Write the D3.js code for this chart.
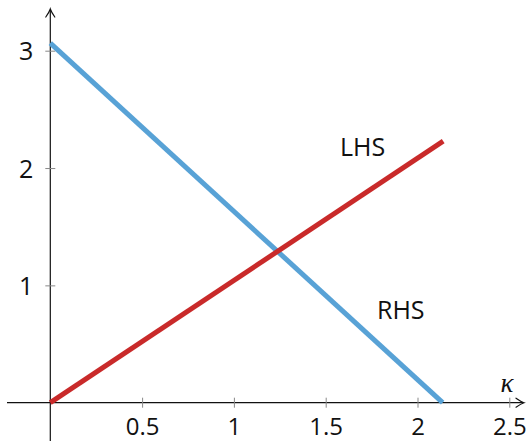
<!DOCTYPE html>
<html><head><meta charset="utf-8">
<script src="https://cdn.jsdelivr.net/npm/d3@7"></script>
<style>html,body{margin:0;padding:0;background:#fff;}svg{display:block;}</style>
</head><body>
<svg id="c" width="528" height="441"></svg>
<script>
// Data
const kappa = [0, 2.14];
const lhs = [0, 2.23];
const rhsKappa = [0, 2.137];
const rhs = [3.065, 0];
const xTicks = [0.5, 1, 1.5, 2, 2.5];
const yTicks = [1, 2, 3];
const xTickLabels = ["0.5", "1", "1.5", "2", "2.5"];
const yTickLabels = ["1", "2", "3"];

const svg = d3.select("#c");
const x = d3.scaleLinear().domain([0, 2.5]).range([50.3, 509.3]);
const y = d3.scaleLinear().domain([0, 3]).range([402.7, 50.7]);
const font = "'Open Sans', sans-serif";

// Axis lines
const ax = svg.append("g").attr("stroke", "#111").attr("stroke-width", 1.2).attr("fill", "none");
ax.append("line").attr("x1", 7).attr("x2", 523).attr("y1", y(0)).attr("y2", y(0));
ax.append("line").attr("x1", x(0)).attr("x2", x(0)).attr("y1", 441).attr("y2", 10);
// arrowheads (LaTeX-style)
const ax0 = y(0), xr = 524;
ax.append("path").attr("d", `M${xr-8},${ax0-4.5} Q${xr-3},${ax0-1} ${xr},${ax0} Q${xr-3},${ax0+1} ${xr-8},${ax0+4.5}`).attr("stroke-linecap","round");
const yt = 9, xx = x(0);
ax.append("path").attr("d", `M${xx-4.5},${yt+8} Q${xx-1},${yt+3} ${xx},${yt} Q${xx+1},${yt+3} ${xx+4.5},${yt+8}`).attr("stroke-linecap","round");

// X axis ticks
const xAxis = d3.axisBottom(x).tickValues(xTicks).tickSize(10).tickFormat((d, i) => xTickLabels[i]);
const gx = svg.append("g").attr("transform", `translate(0,${y(0) - 5})`).call(xAxis);
gx.select(".domain").remove();
gx.selectAll(".tick line").attr("stroke", "#888").attr("stroke-width", 1);
gx.selectAll(".tick text").attr("font-family", font).attr("font-size", 24).attr("fill", "#111")
  .attr("y", 0).attr("dy", null).attr("transform", "translate(0,37.5)");

// Y axis ticks
const yAxis = d3.axisLeft(y).tickValues(yTicks).tickSize(10).tickFormat((d, i) => yTickLabels[i]);
const gy = svg.append("g").attr("transform", `translate(${x(0) + 5},0)`).call(yAxis);
gy.select(".domain").remove();
gy.selectAll(".tick line").attr("stroke", "#888").attr("stroke-width", 1);
gy.selectAll(".tick text").attr("font-family", font).attr("font-size", 25).attr("fill", "#111")
  .attr("x", -22).attr("dy", "0.36em");

// Lines
const lhsPts = kappa.map((k, i) => [k, lhs[i]]);
const rhsPts = rhsKappa.map((k, i) => [k, rhs[i]]);
const line = d3.line().x(d => x(d[0])).y(d => y(d[1]));
svg.append("path").datum(rhsPts).attr("d", line).attr("fill", "none")
  .attr("stroke", "#58a2d6").attr("stroke-width", 5);
svg.append("path").datum(lhsPts).attr("d", line).attr("fill", "none")
  .attr("stroke", "#c92a2a").attr("stroke-width", 5);

// Labels
svg.append("text").attr("x", 340).attr("y", 156).attr("font-family", font).attr("font-size", 25).attr("fill", "#111").text("LHS");
svg.append("text").attr("x", 377).attr("y", 319).attr("font-family", font).attr("font-size", 25).attr("fill", "#111").text("RHS");
svg.append("text").attr("x", 507).attr("y", 392).attr("text-anchor", "middle").attr("font-family", "'Liberation Serif', serif")
  .attr("font-style", "italic").attr("font-size", 27).attr("fill", "#111").text("κ");
</script>
</body></html>
